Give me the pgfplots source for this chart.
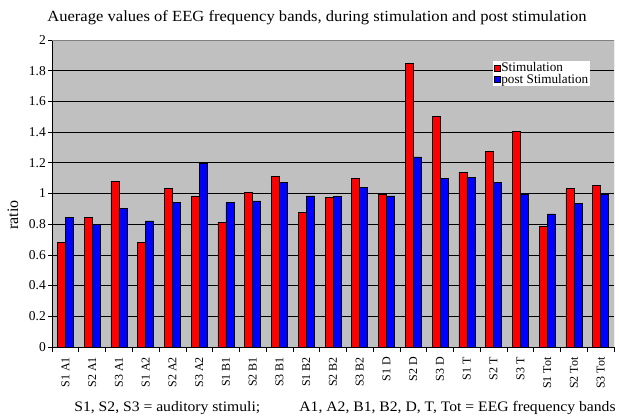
\documentclass[border=0pt]{standalone}
\usepackage{fontspec}
\setmainfont{Liberation Serif}
\usepackage{pgfplots}
\usepackage{pgfplotstable}
\pgfplotsset{compat=1.18}
\definecolor{bgray}{RGB}{192,192,192}
\definecolor{sred}{RGB}{255,0,0}
\definecolor{sblue}{RGB}{0,0,255}
\definecolor{bord}{RGB}{128,128,128}
\pgfplotstableread{
x s p
0 0.681 0.842
1 0.846 0.798
2 1.079 0.905
3 0.680 0.822
4 1.031 0.942
5 0.979 1.198
6 0.813 0.940
7 1.005 0.952
8 1.113 1.072
9 0.879 0.985
10 0.972 0.980
11 1.100 1.039
12 0.993 0.985
13 1.846 1.239
14 1.500 1.100
15 1.139 1.107
16 1.272 1.072
17 1.407 0.998
18 0.785 0.867
19 1.033 0.933
20 1.054 0.998
}\data
\begin{document}
\begin{tikzpicture}[x=1pt,y=1pt]
\path[use as bounding box] (0,0) rectangle (620,417);
\begin{axis}[
  at={(52pt,70pt)}, anchor=south west,
  scale only axis, width=562pt, height=307pt,
  xmin=-0.5, xmax=20.5, ymin=0, ymax=2,
  ybar=0pt, bar width=8pt,
  axis background/.style={fill=bgray},
  axis x line*=bottom, axis y line*=left,
  axis line style={black, line width=0.6pt},
  tick align=outside,
  xtick={0,...,20},
  xticklabels={S1 A1,S2 A1,S3 A1,S1 A2,S2 A2,S3 A2,S1 B1,S2 B1,S3 B1,S1 B2,S2 B2,S3 B2,S1 D,S2 D,S3 D,S1 T,S2 T,S3 T,S1 Tot,S2 Tot,S3 Tot},
  x tick style={draw=none},
  minor xtick={-0.5,0.5,...,20.5},
  minor x tick style={draw=black, line width=0.6pt},
  minor tick length=5pt,
  major tick length=4pt,
  ytick={0,0.2,0.4,0.6,0.8,1,1.2,1.4,1.6,1.8,2},
  yticklabels={0,0.2,0.4,0.6,0.8,1,1.2,1.4,1.6,1.8,2},
  y tick style={black, line width=0.6pt},
  ymajorgrids,
  grid style={black, line width=0.7pt},
  x tick label style={rotate=90, anchor=east, font=\fontsize{12}{12}\selectfont, inner sep=1pt, xshift=-5pt},
  y tick label style={font=\fontsize{13.5}{14}\selectfont, inner sep=2pt},
  legend style={at={(0.785,0.932)}, anchor=north west, draw=none, fill=white,
    font=\fontsize{13.2}{13}\selectfont, inner sep=1pt, row sep=0pt,
    nodes={inner sep=0.5pt}},
  legend cell align=left,
]
\addplot[fill=sred, draw=black, line width=0.6pt,
  legend image code/.code={\draw[fill=sred, draw=black, line width=0.5pt] (0pt,-3pt) rectangle (6pt,3pt);}]
  table[x=x,y=s] {\data};
\addplot[fill=sblue, draw=black, line width=0.6pt,
  legend image code/.code={\draw[fill=sblue, draw=black, line width=0.5pt] (0pt,-3pt) rectangle (6pt,3pt);}]
  table[x=x,y=p] {\data};
\legend{Stimulation, post Stimulation}
\draw[bord, line width=0.8pt] (rel axis cs:0,1) -- (rel axis cs:1,1) -- (rel axis cs:1,0);
\end{axis}
\node[font=\fontsize{15.5}{16}\selectfont, xscale=1.07, transform shape] at (317,399) {Auerage values of EEG frequency bands, during stimulation and post stimulation};
\node[rotate=90, font=\fontsize{16}{16}\selectfont] at (13,202) {ratio};
\node[font=\fontsize{14.5}{15}\selectfont, xscale=1.08, transform shape] at (345,9) {S1, S2, S3 = auditory stimuli;\hspace{2.5em}A1, A2, B1, B2, D, T, Tot = EEG frequency bands};
\end{tikzpicture}
\end{document}
